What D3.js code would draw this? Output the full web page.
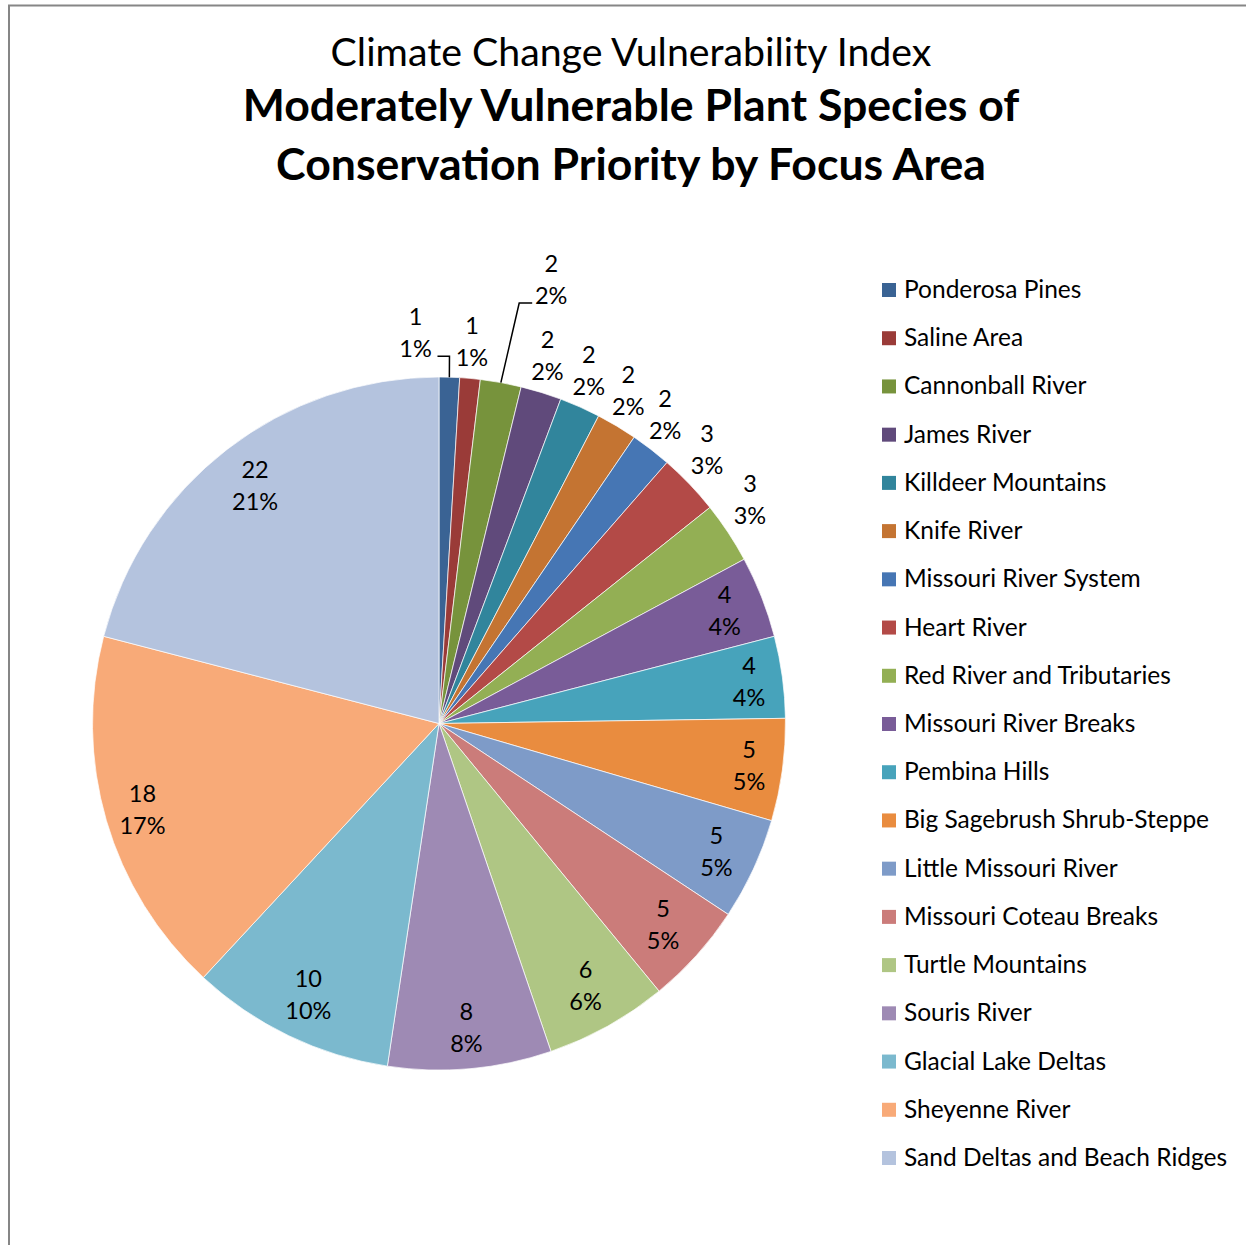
<!DOCTYPE html>
<html lang="en">
<head>
    <meta charset="UTF-8">
    <script src="https://d3js.org/d3.v7.min.js"></script>
    <title>Climate Change Vulnerability Index</title>
    <style>
        body { margin: 0; background: #fff; }
        svg { display: block; font-family: Lato, "Open Sans", sans-serif; }
    </style>
</head>
<body>
    <div id="chart"></div>
    <script>
        // Data
        const areas = [
            "Ponderosa Pines", "Saline Area", "Cannonball River", "James River",
            "Killdeer Mountains", "Knife River", "Missouri River System", "Heart River",
            "Red River and Tributaries", "Missouri River Breaks", "Pembina Hills",
            "Big Sagebrush Shrub-Steppe", "Little Missouri River", "Missouri Coteau Breaks",
            "Turtle Mountains", "Souris River", "Glacial Lake Deltas", "Sheyenne River",
            "Sand Deltas and Beach Ridges"
        ];
        const counts = [1, 1, 2, 2, 2, 2, 2, 3, 3, 4, 4, 5, 5, 5, 6, 8, 10, 18, 22];
        const colors = [
            "#3a6394", "#9a3b38", "#77933c", "#604a7b", "#31859c", "#c47432",
            "#4676b4", "#b34a47", "#93af54", "#795c98", "#47a3bb", "#e98c3f",
            "#7e9bc8", "#cb7c7a", "#afc684", "#9e8ab4", "#7bb9ce", "#f8aa78", "#b4c3de"
        ];
        const titleLines = [
            "Climate Change Vulnerability Index",
            "Moderately Vulnerable Plant Species of",
            "Conservation Priority by Focus Area"
        ];

        // Dimensions
        const width = 1246;
        const height = 1245;
        const cx = 439, cy = 723.5, radius = 346.5;

        const svg = d3.select("#chart")
            .append("svg")
            .attr("width", width)
            .attr("height", height);

        svg.append("rect")
            .attr("x", 9)
            .attr("y", 5.5)
            .attr("width", width + 20)
            .attr("height", height + 20)
            .attr("fill", "#fff")
            .attr("stroke", "#868686")
            .attr("stroke-width", 2);

        // Title
        svg.append("text")
            .attr("x", 631)
            .attr("y", 66)
            .attr("text-anchor", "middle")
            .attr("font-size", "39.3px")
            .text(titleLines[0]);

        svg.selectAll(".title-bold")
            .data(titleLines.slice(1))
            .join("text")
            .attr("class", "title-bold")
            .attr("x", 631)
            .attr("y", (d, i) => 121 + i * 59)
            .attr("text-anchor", "middle")
            .attr("font-size", "44.6px")
            .attr("font-weight", "bold")
            .text(d => d);

        // Pie
        const total = d3.sum(counts);
        const rows = areas.map((name, i) => ({ name, value: counts[i], color: colors[i] }));

        const pie = d3.pie()
            .sort(null)
            .value(d => d.value);
        const arcs = pie(rows);

        const arc = d3.arc()
            .innerRadius(0)
            .outerRadius(radius);

        const g = svg.append("g")
            .attr("transform", `translate(${cx},${cy})`);

        g.selectAll("path")
            .data(arcs)
            .join("path")
            .attr("d", arc)
            .attr("fill", d => d.data.color)
            .attr("stroke", "#fff")
            .attr("stroke-width", 0.7);

        // Label placement: small slices go outside, two get leader lines
        const leaders = { "Ponderosa Pines": { angle: -3.45, k: 1.128 }, "Cannonball River": { angle: 14.2, k: 1.32 } };
        const polar = (a, r) => [Math.sin(a) * r, -Math.cos(a) * r];
        const halfW = 23, halfH = 32;

        arcs.forEach(d => {
            const mid = (d.startAngle + d.endAngle) / 2;
            const lead = leaders[d.data.name];
            if (lead) {
                d.label = polar(lead.angle * Math.PI / 180, radius * lead.k);
                const p0 = polar(mid, radius);
                const right = d.label[0] < p0[0];
                const endX = d.label[0] + (right ? 22 : -19);
                const elbowX = endX + (right ? 12 : -13);
                const y = d.label[1] + 23;
                d.leader = [p0, [elbowX, y], [endX, y]];
            } else if (d.data.value >= 4) {
                // keep the label box inside the slice
                const inset = Math.abs(Math.cos(mid)) * halfH + Math.abs(Math.sin(mid)) * halfW;
                d.label = polar(mid, 340 / 346.5 * radius - inset);
            } else {
                d.label = polar(mid * 0.96, radius * 1.105);
            }
        });

        g.selectAll(".leader")
            .data(arcs.filter(d => d.leader))
            .join("path")
            .attr("class", "leader")
            .attr("d", d => d3.line()(d.leader))
            .attr("fill", "none")
            .attr("stroke", "#000")
            .attr("stroke-width", 1.5);

        const label = g.selectAll(".label")
            .data(arcs)
            .join("text")
            .attr("class", "label")
            .attr("text-anchor", "middle")
            .attr("font-size", "23.5px")
            .attr("fill", "#000");

        label.append("tspan")
            .attr("x", d => d.label[0])
            .attr("y", d => d.label[1] - 8)
            .text(d => d.data.value);

        label.append("tspan")
            .attr("x", d => d.label[0])
            .attr("y", d => d.label[1] + 24)
            .text(d => `${Math.round(d.data.value / total * 100)}%`);

        // Legend
        const legendY = d3.scalePoint()
            .domain(areas)
            .range([290, 1158]);

        const legend = svg.selectAll(".legend")
            .data(rows)
            .join("g")
            .attr("class", "legend")
            .attr("transform", d => `translate(882,${legendY(d.name)})`);

        legend.append("rect")
            .attr("x", 0)
            .attr("y", -7)
            .attr("width", 14)
            .attr("height", 14)
            .attr("fill", d => d.color);

        legend.append("text")
            .attr("x", 22)
            .attr("y", 8)
            .attr("font-size", "24.5px")
            .text(d => d.name);
    </script>
</body>
</html>
